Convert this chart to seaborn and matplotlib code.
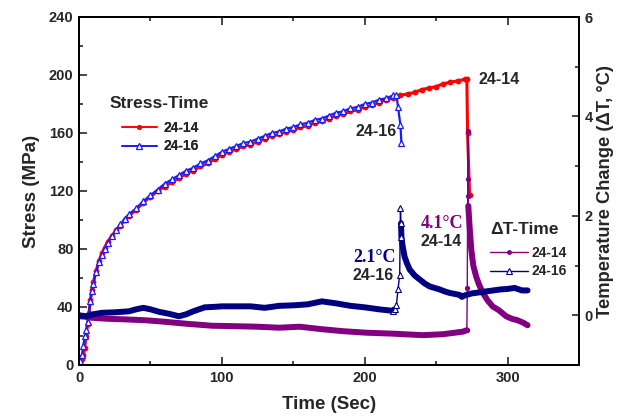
import matplotlib
matplotlib.use("Agg")
import numpy as np
import pandas as pd
import matplotlib.pyplot as plt
from matplotlib.lines import Line2D
from matplotlib.ticker import MultipleLocator
import seaborn as sns

# ------------------------------------------
# DATA
# ------------------------------------------
# stress vs time, sample 24-14
t_s14 = [0, 1, 2, 3, 4, 5, 6, 7, 8, 9, 10, 12, 14, 16, 18, 20, 23, 26, 29, 32, 35,
         40, 45, 50, 55, 60, 65, 70, 75, 80, 85, 90, 95, 100, 105, 110, 115, 120, 125,
         130, 135, 140, 145, 150, 155, 160, 165, 170, 175, 180, 185, 190, 195, 200,
         205, 210, 215, 220, 225, 230, 235, 240, 245, 250, 255, 260, 265, 270,
         271.5, 272, 273.4]
s_14 = [0, 2, 4, 7, 12, 20, 28, 36, 45, 52, 57, 65, 72, 77, 81, 85, 89, 93, 96, 100, 103,
        107, 112, 116, 120, 123, 126, 129, 132, 134, 137, 139, 142, 145, 147, 149, 151,
        152, 154, 156, 158, 159, 161, 162, 164, 165, 167, 168, 170, 172, 173, 175, 176,
        178, 179, 181, 183, 184, 186, 187, 188, 190, 191, 192, 194, 195, 196, 197,
        197, 160, 117]

# stress vs time, sample 24-16
t_s16 = [0, 1, 2, 3, 4, 5, 6, 7, 8, 9, 10, 12, 14, 16, 18, 20, 23, 26, 29, 32, 35,
         40, 45, 50, 55, 60, 65, 70, 75, 80, 85, 90, 95, 100, 105, 110, 115, 120, 125,
         130, 135, 140, 145, 150, 155, 160, 165, 170, 175, 180, 185, 190, 195, 200,
         205, 210, 215, 220, 222.2, 223.3, 225, 225.7]
s_16 = [0, 3, 7, 13, 20, 24, 30, 36, 44, 51, 56, 64, 71, 76, 80, 84, 89, 93, 97, 101, 104,
        108, 113, 117, 121, 125, 128, 131, 134, 136, 139, 141, 144, 147, 149, 151, 153,
        154, 156, 158, 160, 161, 163, 164, 166, 167, 169, 170, 172, 174, 175, 177, 178,
        180, 181, 183, 184, 186, 186, 178, 165.5, 153]

# temperature change vs time, sample 24-14
t_T14 = [0, 5, 9, 20, 30, 46.6, 60, 75, 93, 110, 125, 140, 154.5, 170, 185, 201, 220,
         240.6, 255, 268.6, 271.5, 271.8, 272, 272.1, 272.2, 272.3, 272.5, 273.5, 274.6,
         276, 278, 280, 282.7, 286, 289.5, 294, 299, 303, 307, 311, 314]
dT_14 = [-0.02, -0.03, -0.05, -0.07, -0.08, -0.1, -0.13, -0.17, -0.21, -0.22, -0.23,
         -0.25, -0.23, -0.28, -0.32, -0.35, -0.37, -0.4, -0.38, -0.33, -0.3, 0.55, 2.16,
         2.39, 2.75, 3.7, 2.2, 1.75, 1.32, 1.0, 0.78, 0.62, 0.45, 0.3, 0.18, 0.1, -0.02,
         -0.07, -0.1, -0.15, -0.2]

# temperature change vs time, sample 24-16
t_T16 = [0, 5, 10, 16, 25, 35, 40, 45, 50, 56, 63, 70, 75, 80, 88, 95, 100, 112, 120,
         130, 140, 150, 160, 170, 180, 190, 200, 210, 219.6, 221, 222.2, 223.3, 224.5,
         225, 225.4, 225.7, 226.5, 227.9, 229.5, 231.5, 235, 238.5, 242, 245.5, 249,
         252.4, 256, 259.4, 263, 266.4, 268, 270, 275, 280, 285, 290, 295, 300, 305,
         310, 314]
dT_16 = [0, -0.02, 0.02, 0.05, 0.06, 0.08, 0.12, 0.15, 0.12, 0.07, 0.03, -0.02, 0.02,
         0.08, 0.16, 0.17, 0.18, 0.18, 0.18, 0.15, 0.19, 0.2, 0.22, 0.28, 0.24, 0.19,
         0.16, 0.12, 0.09, 0.12, 0.21, 0.52, 0.82, 2.16, 1.85, 1.58, 1.4, 1.18, 1.05,
         0.92, 0.8, 0.72, 0.64, 0.58, 0.55, 0.52, 0.48, 0.45, 0.43, 0.41, 0.37, 0.4,
         0.44, 0.46, 0.48, 0.5, 0.52, 0.53, 0.55, 0.5, 0.5]

# time windows of the sudden temperature jumps (drawn thin, not as a band)
jump_14 = (271.6, 272.45)
jump_16 = (221.5, 225.3)

RED = "#ff0000"
BLUE = "#1a1aff"
NAVY = "#000080"
PURPLE = "#800080"

# ------------------------------------------
# STYLE
# ------------------------------------------
sns.set_style("ticks")
plt.rcParams["font.family"] = ["Liberation Sans", "DejaVu Sans"]
plt.rcParams["font.weight"] = "bold"
plt.rcParams["axes.labelweight"] = "bold"

W, H = 618, 417
fig = plt.figure(figsize=(W / 100, H / 100), dpi=100)
ax = fig.add_axes([79 / W, 1 - 365 / H, 500 / W, 348 / H])
ax2 = ax.twinx()


def px(x, y):
    return x / W, 1 - y / H


df_s14 = pd.DataFrame({"t": t_s14, "v": s_14})
df_s16 = pd.DataFrame({"t": t_s16, "v": s_16})
df_T14 = pd.DataFrame({"t": t_T14, "v": dT_14})
df_T16 = pd.DataFrame({"t": t_T16, "v": dT_16})

# ------------------------------------------
# STRESS CURVES (left axis)
# ------------------------------------------
sns.lineplot(data=df_s14, x="t", y="v", ax=ax, color=RED, lw=2.2, marker="o",
             markersize=4.2, markeredgewidth=0, sort=False, estimator=None, legend=False)
sns.lineplot(data=df_s16, x="t", y="v", ax=ax, color=BLUE, lw=1.6, marker="^",
             markersize=4.2, markerfacecolor="white", markeredgecolor=BLUE,
             markeredgewidth=0.9, sort=False, estimator=None, legend=False)

# ------------------------------------------
# TEMPERATURE CURVES (right axis)
# ------------------------------------------
for df, col, mk, jump in [(df_T14, PURPLE, "o", jump_14), (df_T16, NAVY, "^", jump_16)]:
    # thick band for the slowly varying parts
    before = df[df["t"] <= jump[0]]
    after = df[df["t"] >= jump[1]]
    for part in (before, after):
        sns.lineplot(data=part, x="t", y="v", ax=ax2, color=col, lw=4.3,
                     sort=False, estimator=None, legend=False,
                     solid_capstyle="round")
    # thin line through every point, markers only on the jump
    idx = [i for i, t in enumerate(df["t"]) if jump[0] - 2 <= t <= jump[1] + 0.5]
    if mk == "^":
        kw = dict(markerfacecolor="white", markeredgecolor=col, markeredgewidth=0.8,
                  markersize=4)
    else:
        kw = dict(markeredgewidth=0, markersize=3.8)
    sns.lineplot(data=df, x="t", y="v", ax=ax2, color=col, lw=1.0, marker=mk,
                 markevery=idx, sort=False, estimator=None, legend=False, **kw)

# ------------------------------------------
# AXES
# ------------------------------------------
ax.set_xlim(0, 350)
ax.set_ylim(0, 240)
ax2.set_ylim(-1, 6)
ax.xaxis.set_major_locator(MultipleLocator(100))
ax.xaxis.set_minor_locator(MultipleLocator(50))
ax.yaxis.set_major_locator(MultipleLocator(40))
ax.yaxis.set_minor_locator(MultipleLocator(20))
ax2.yaxis.set_major_locator(MultipleLocator(2))
ax2.yaxis.set_minor_locator(MultipleLocator(1))

ax.tick_params(axis="both", which="major", direction="in", length=6, width=1.2,
               labelsize=10.5, top=True, pad=4)
ax.tick_params(axis="both", which="minor", direction="in", length=3, width=1.2, top=True)
ax.tick_params(axis="y", which="both", right=False)
ax2.tick_params(axis="y", which="major", direction="in", length=5, width=1.2,
                labelsize=10.5, pad=4)
ax2.tick_params(axis="y", which="minor", direction="in", length=3, width=1.2)
for a in (ax, ax2):
    for sp in a.spines.values():
        sp.set_linewidth(1.4)
        sp.set_color("black")
    for lab in a.get_xticklabels() + a.get_yticklabels():
        lab.set_fontweight("bold")

ax.set_xlabel("Time (Sec)", fontsize=13.5, labelpad=8)
ax.set_ylabel("Stress (MPa)", fontsize=13.5, labelpad=6)
ax2.set_ylabel("Temperature Change (\u0394T, \u00b0C)", fontsize=13.2, labelpad=3)

# ------------------------------------------
# ANNOTATIONS & LEGENDS
# ------------------------------------------
fig.text(*px(110, 103), "Stress-Time", fontsize=12.5, fontweight="bold",
         ha="left", va="center")
fig.text(*px(490, 229), "\u0394T-Time", fontsize=12.5, fontweight="bold",
         ha="left", va="center")

fig.text(*px(479, 79), "24-14", fontsize=11.5, fontweight="bold", ha="left", va="center")
fig.text(*px(397, 131), "24-16", fontsize=11.5, fontweight="bold", ha="right", va="center")

serif = ["Liberation Serif", "DejaVu Serif"]
fig.text(*px(374, 257), "2.1\u00b0C", fontsize=13, fontweight="bold", family=serif,
         color=NAVY, ha="center", va="center")
fig.text(*px(373, 276), "24-16", fontsize=11.5, fontweight="bold", ha="center", va="center")
fig.text(*px(442, 223), "4.1\u00b0C", fontsize=13, fontweight="bold", family=serif,
         color=PURPLE, ha="center", va="center")
fig.text(*px(441, 242), "24-14", fontsize=11.5, fontweight="bold", ha="center", va="center")

h_s = [Line2D([], [], color=RED, lw=1.2, marker="o", markersize=3.5, markeredgewidth=0),
       Line2D([], [], color=BLUE, lw=1.2, marker="^", markersize=4,
              markerfacecolor="white", markeredgecolor=BLUE, markeredgewidth=0.8)]
leg1 = ax.legend(h_s, ["24-14", "24-16"], loc="center left",
                 bbox_to_anchor=px(121.5, 137), bbox_transform=fig.transFigure,
                 frameon=False, borderpad=0, borderaxespad=0, handlelength=2.55,
                 handletextpad=0.45, labelspacing=0.35, prop={"size": 10, "weight": "bold"})
ax.add_artist(leg1)

h_t = [Line2D([], [], color=PURPLE, lw=1.0, marker="o", markersize=3.5, markeredgewidth=0),
       Line2D([], [], color=NAVY, lw=1.0, marker="^", markersize=4,
              markerfacecolor="white", markeredgecolor=NAVY, markeredgewidth=0.8)]
leg2 = ax2.legend(h_t, ["24-14", "24-16"], loc="center left",
                  bbox_to_anchor=px(490, 262), bbox_transform=fig.transFigure,
                  frameon=False, borderpad=0, borderaxespad=0, handlelength=2.75,
                  handletextpad=0.25, labelspacing=0.35, prop={"size": 10, "weight": "bold"})

fig.savefig("out.png", dpi=100)
